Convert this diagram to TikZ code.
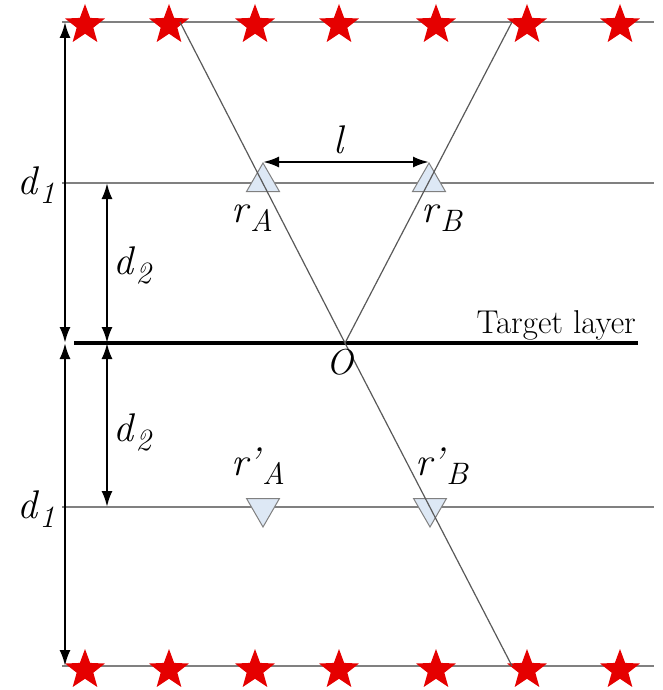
\documentclass[tikz,border=0pt]{standalone}
\usepackage{fontspec}
\usetikzlibrary{shapes.geometric,arrows.meta}
\definecolor{recfill}{RGB}{221,232,245}
\newcommand{\lbl}[2]{{\fontsize{40}{42}\selectfont\textit{#1}}\raisebox{-9pt}{\fontsize{31}{33}\selectfont\textit{#2}}}
\tikzset{
  src/.style={star, star points=5, star point ratio=2.4, minimum size=42pt, fill=red!90!black, inner sep=0pt},
  rec/.style={regular polygon, regular polygon sides=3, minimum size=38pt, fill=recfill, draw=gray, line width=1pt, inner sep=0pt},
  layer/.style={gray, line width=1.8pt},
  ray/.style={black!65, line width=1.2pt},
  dim/.style={line width=2.4pt, {Latex[length=16pt,width=11pt]}-{Latex[length=16pt,width=11pt]}},
  lab/.style={inner sep=0pt}
}

\begin{document}
\begin{tikzpicture}[x=1pt,y=-1pt]
\useasboundingbox (0,0) rectangle (662,690);

% layers
\draw[layer] (62,22) -- (654,22);
\draw[layer] (62,183) -- (654,183);
\draw[layer] (62,507) -- (654,507);
\draw[layer] (62,666) -- (654,666);
\draw[line width=3.2pt] (74,343) -- (638,343);

% sources
\foreach \x [count=\i] in {85,169,255,339,436,527,620} {
  \node[src] (t\i) at (\x,25) {};
  \node[src] (b\i) at (\x,670) {};
}

% receivers
\node[rec] (rA) at (263,182) {};
\node[rec] (rB) at (429,182) {};
\node[rec, shape border rotate=180] (qA) at (263,508) {};
\node[rec, shape border rotate=180] (qB) at (430,508) {};

% rays
\coordinate (o) at (345,343);
\coordinate (p1) at (180,22);
\coordinate (p2) at (512,22);
\coordinate (p3) at (512,666);
\draw[ray] (p1) -- (o) -- (p2);
\draw[ray] (o) -- (p3);

% distances
\coordinate (a1) at (65,22);
\coordinate (a2) at (65,343);
\coordinate (a3) at (65,666);
\coordinate (c1) at (107,183);
\coordinate (c2) at (107,343);
\coordinate (c3) at (107,507);
\draw[dim] (a1) -- (a2);
\draw[dim] (a2) -- (a3);
\draw[dim] (c1) -- (c2);
\draw[dim] (c2) -- (c3);
\draw[dim] (rA.north) -- (rB.north);

% labels
\node[lab] (d1u) at (36,185) {\lbl{d}{1}};
\node[lab] (d1d) at (36,509) {\lbl{d}{1}};
\node[lab] (d2u) at (133,265) {\lbl{d}{2}};
\node[lab] (d2d) at (133,432) {\lbl{d}{2}};
\node[lab] (l) at (340,140) {{\fontsize{40}{42}\selectfont\textit{l}}};
\node[lab] (lA) at (252,218) {\lbl{r}{A}};
\node[lab] (lB) at (442,218) {\lbl{r}{B}};
\node[lab] (lqA) at (258,466) {\lbl{r'}{A}};
\node[lab] (lqB) at (442,466) {\lbl{r'}{B}};
\node[lab] (lo) at (340,362) {{\fontsize{36}{38}\selectfont\textit{O}}};
\node[lab, anchor=base east] (tl) at (636,333) {{\fontsize{33}{35}\selectfont Target layer}};

\end{tikzpicture}
\end{document}
